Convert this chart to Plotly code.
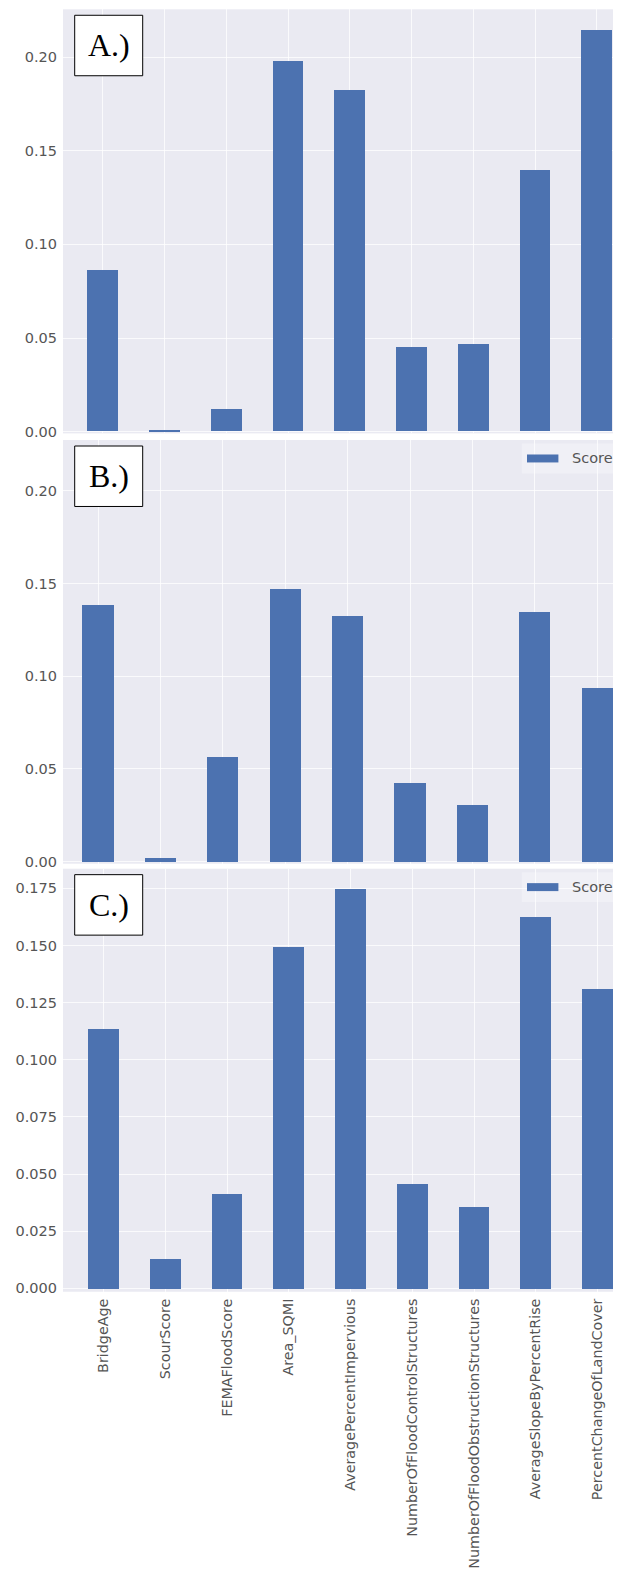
import plotly.graph_objects as go

# feature importance scores for the three models
features = [
    "BridgeAge", "ScourScore", "FEMAFloodScore", "Area_SQMI",
    "AveragePercentImpervious", "NumberOfFloodControlStructures",
    "NumberOfFloodObstructionStructures", "AverageSlopeByPercentRise",
    "PercentChangeOfLandCover",
]
score_a = [0.086, 0.001, 0.012, 0.198, 0.182, 0.045, 0.0464, 0.1397, 0.2145]
score_b = [0.1386, 0.002, 0.0563, 0.1472, 0.1323, 0.0424, 0.0304, 0.1345, 0.0935]
score_c = [0.1136, 0.0131, 0.0414, 0.1496, 0.1749, 0.0457, 0.0359, 0.1627, 0.131]
panel_labels = ["A.)", "B.)", "C.)"]
legend_label = "Score"

# the page body keeps its default 8px margin, so the figure is shifted by that much
OFF = 8
W, H = 621 - OFF, 1574 - OFF
BAR = "#4C72B0"
BG = "#EAEAF2"
GRID = "rgba(255,255,255,0.75)"
TXT = "#555555"
FONT = "DejaVu Sans"


def px_x(p):
    return (p - OFF) / W


def px_y(p):
    return 1 - (p - OFF) / H


fig = go.Figure()

panels = [
    # (scores, y top px, y bottom px, y range, x range, tick format, dtick, legend)
    (score_a, 9.3, 435, [-0.0009, 0.2255], [-0.645, 8.393], ".2f", 0.05, False),
    (score_b, 441.7, 867, [-0.0011, 0.2274], [-0.561, 8.38], ".2f", 0.05, True),
    (score_c, 872, 1296.7, [-0.0015, 0.1836], [-0.656, 8.38], ".3f", 0.025, True),
]

shapes = []
annotations = []
for i, (scores, top, bot, yr, xr, fmt, dt, has_leg) in enumerate(panels):
    n = "" if i == 0 else str(i + 1)
    fig.add_trace(go.Bar(
        x=features, y=scores, width=0.5,
        marker=dict(color=BAR, line=dict(width=0)),
        name=legend_label, showlegend=False,
        xaxis="x" + n, yaxis="y" + n,
    ))
    last = i == len(panels) - 1
    fig.update_layout(**{
        "xaxis" + n: dict(
            domain=[px_x(63), 1.0], anchor="y" + n, type="category",
            range=xr, showgrid=True, gridcolor=GRID, gridwidth=1,
            showticklabels=last, tickangle=-90, ticks="",
            ticklabelstandoff=3, zeroline=False, showline=False,
            tickfont=dict(family=FONT, size=14.3, color=TXT),
        ),
        "yaxis" + n: dict(
            domain=[px_y(bot), px_y(top)], anchor="x" + n, range=yr,
            dtick=dt, tick0=0, tickformat=fmt, showgrid=True,
            gridcolor=GRID, gridwidth=1, zeroline=False, ticks="",
            ticklabelstandoff=5,
            tickfont=dict(family=FONT, size=14.5, color=TXT),
        ),
    })

    # panel letter box
    bt = top + 6
    shapes.append(dict(type="rect", xref="paper", yref="paper",
                       x0=px_x(74.7), x1=px_x(142.7), y0=px_y(bt + 60.7), y1=px_y(bt),
                       fillcolor="white", line=dict(color="black", width=1)))
    annotations.append(dict(text=panel_labels[i], xref="paper", yref="paper",
                            x=px_x(108.7), y=px_y(bt + 30), xanchor="center", yanchor="middle",
                            showarrow=False,
                            font=dict(family="Liberation Serif", size=32, color="black")))

    # legend drawn like the matplotlib one
    if has_leg:
        ly = top + 18.5
        shapes.append(dict(type="rect", xref="paper", yref="paper",
                           x0=px_x(521.7), x1=1.0, y0=px_y(ly + 15), y1=px_y(ly - 15),
                           fillcolor="rgba(255,255,255,0.3)", line=dict(width=0), layer="below"))
        shapes.append(dict(type="rect", xref="paper", yref="paper",
                           x0=px_x(527), x1=px_x(558.4), y0=px_y(ly + 4), y1=px_y(ly - 4),
                           fillcolor=BAR, line=dict(width=0)))
        annotations.append(dict(text=legend_label, xref="paper", yref="paper",
                                x=px_x(569.5), y=px_y(ly), xanchor="left", yanchor="middle",
                                showarrow=False,
                                font=dict(family=FONT, size=14.5, color=TXT)))

fig.update_layout(
    width=W, height=H,
    margin=dict(l=0, r=0, t=0, b=0),
    paper_bgcolor="white",
    plot_bgcolor=BG,
    showlegend=False,
    bargap=0,
    shapes=shapes,
    annotations=annotations,
)

fig.write_html("out.html")
